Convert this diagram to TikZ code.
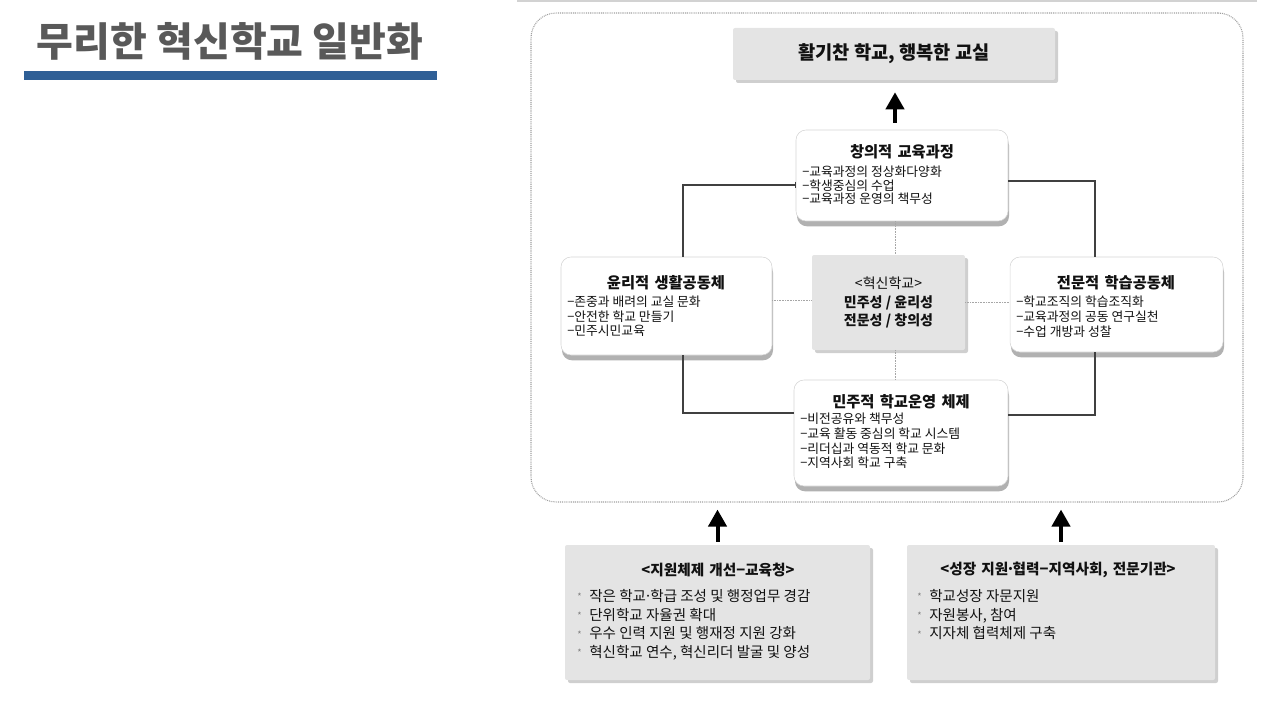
\documentclass[tikz,border=0pt]{standalone}
\usepackage{fontspec}
\setmainfont{Noto Sans CJK KR}
\newfontfamily\wsfont[WordSpace=2.2]{Noto Sans CJK KR}
\newfontfamily\wsfontb[WordSpace=1.5]{Noto Sans CJK KR}
\usetikzlibrary{shadows,arrows.meta,calc}
\definecolor{titlegray}{HTML}{595959}
\definecolor{barblue}{HTML}{2F5F96}
\definecolor{boxgray}{HTML}{E4E4E4}
\definecolor{gshadow}{HTML}{CFCFCF}
\definecolor{wshadow}{HTML}{A8A8A8}
\definecolor{wborder}{HTML}{D5D5D5}
\definecolor{linegray}{HTML}{404040}
\definecolor{txt}{HTML}{111111}
\newcommand{\mybul}{\makebox[9pt][l]{\raisebox{0.5pt}{\color{gray}\fontsize{7}{7}\selectfont *}}}
\newcommand{\mydot}{\makebox[0.3em]{·}}
\begin{document}
\begin{tikzpicture}[x=0.75pt,y=-0.75pt,
  gbox/.style={fill=boxgray, draw=none, rounded corners=1.5pt, drop shadow={shadow xshift=2.25pt, shadow yshift=-2.25pt, fill=gshadow, opacity=1}, inner sep=0pt},
  wbox/.style={fill=white, draw=wborder, line width=0.4pt, rounded corners=7.5pt, drop shadow={shadow xshift=0.75pt, shadow yshift=-4pt, fill=wshadow, opacity=0.9}, inner sep=0pt},
  ttl/.style={font=\wsfont\bfseries\fontsize{11.5}{13}\selectfont, text=txt, inner sep=0pt},
  lst/.style={align=left, anchor=north west, inner sep=0pt, text=txt},
  conn/.style={draw=linegray, line width=0.9pt},
  dotc/.style={draw=gray!70, line width=0.6pt, dash pattern=on 0.6pt off 0.6pt},
  bigarrow/.style={draw=black, line width=3pt, -{Triangle[length=12.75pt,width=13.5pt]}}
]
\useasboundingbox (0,0) rectangle (1280,720);

% title
\node[font=\bfseries\fontsize{30}{34}\selectfont, text=titlegray, inner sep=0pt] (maintitle) at (230,41) {무리한 혁신학교 일반화};
\fill[barblue] (24,71) rectangle (437,80);

% top thin line
\draw[draw=gray!35, line width=1.5pt] (517,1) -- (1257,1);

% dotted frame
\node[draw=gray!75, line width=0.8pt, dash pattern=on 0.7pt off 0.7pt, rounded corners=18.75pt, minimum width=534pt, minimum height=366.75pt, inner sep=0pt] (frame) at (887,257.5) {};

% goal box
\node[gbox, minimum width=241.5pt, minimum height=39pt, font=\bfseries\fontsize{14}{16}\selectfont, text=txt] (goal) at (894,54) {활기찬 학교, 행복한 교실};

% white boxes
\node[wbox, minimum width=159pt, minimum height=68.25pt] (cre) at (902,175.5) {};
\node[ttl] (creT) at (902,152) {창의적 교육과정};
\node[lst, font=\fontsize{9.6}{10.1}\selectfont] (creL) at (802,166) {−교육과정의 정상화다양화\\−학생중심의 수업\\−교육과정 운영의 책무성};

\node[wbox, minimum width=158.25pt, minimum height=73.5pt] (eth) at (666.5,306) {};
\node[ttl] (ethT) at (666,283) {윤리적 생활공동체};
\node[lst, font=\fontsize{9.6}{10.9}\selectfont] (ethL) at (567,296) {−존중과 배려의 교실 문화\\−안전한 학교 만들기\\−민주시민교육};

\node[wbox, minimum width=159.75pt, minimum height=71.25pt] (pro) at (1116.5,304.5) {};
\node[ttl] (proT) at (1116,283) {전문적 학습공동체};
\node[lst, font=\fontsize{9.6}{11.2}\selectfont] (proL) at (1016,296) {−학교조직의 학습조직화\\−교육과정의 공동 연구실천\\−수업 개방과 성찰};

\node[wbox, minimum width=160.5pt, minimum height=79.5pt] (dem) at (901,433) {};
\node[ttl] (demT) at (901,402) {민주적 학교운영 체제};
\node[lst, font=\fontsize{9.6}{11}\selectfont] (demL) at (800,413) {−비전공유와 책무성\\−교육 활동 중심의 학교 시스템\\−리더십과 역동적 학교 문화\\−지역사회 학교 구축};

% centre box
\node[gbox, minimum width=114.75pt, minimum height=71.25pt, align=center, font=\bfseries\fontsize{10.5}{13.9}\selectfont, text=txt] (ctr) at (888.5,302.5) {{\mdseries <혁신학교>}\\민주성 / 윤리성\\전문성 / 창의성};

% bottom boxes
\node[gbox, minimum width=228.75pt, minimum height=101.25pt] (bl) at (717.5,612.5) {};
\node[ttl, font=\wsfontb\bfseries\fontsize{11}{12}\selectfont] (blT) at (718,570) {<지원체제 개선−교육청>};
\node[lst, font=\fontsize{10.9}{14}\selectfont] (blL) at (577,589) {\mybul 작은 학교\mydot 학급 조성 및 행정업무 경감\\\mybul 단위학교 자율권 확대\\\mybul 우수 인력 지원 및 행재정 지원 강화\\\mybul 혁신학교 연수, 혁신리더 발굴 및 양성};

\node[gbox, minimum width=231pt, minimum height=101.25pt] (br) at (1061,612.5) {};
\node[ttl, font=\wsfontb\bfseries\fontsize{11}{12}\selectfont] (brT) at (1058,570) {<성장 지원\mydot 협력−지역사회, 전문기관>};
\node[lst, font=\fontsize{10.9}{14}\selectfont] (brL) at (917,589) {\mybul 학교성장 자문지원\\\mybul 자원봉사, 참여\\\mybul 지자체 협력체제 구축};

% solid connectors
\coordinate (jl) at (683,185);
\coordinate (jr) at (1095,181);
\coordinate (jbr) at (1095,415);
\coordinate (jbl) at (683,413);
\draw[conn, -{Bar[width=5pt]}] (eth.north -| jl) |- (cre.west |- jl);
\draw[conn] (cre.east |- jr) -| (pro.north -| jr);
\draw[conn] (pro.south -| jbr) |- (dem.east |- jbr);
\draw[conn] (dem.west |- jbl) -| (eth.south -| jbl);

% dotted connectors
\coordinate (dx) at (895,0);
\coordinate (dyl) at (0,300);
\coordinate (dyr) at (0,302);
\draw[dotc] (cre.south -| dx) -- (ctr.north -| dx);
\draw[dotc] (ctr.south -| dx) -- (dem.north -| dx);
\draw[dotc] (eth.east |- dyl) -- (ctr.west |- dyl);
\draw[dotc] (ctr.east |- dyr) -- (pro.west |- dyr);

% big arrows
\draw[bigarrow, shorten <=5.25pt, shorten >=9pt] (cre.north -| dx) -- (goal.south -| dx);
\draw[bigarrow, shorten <=2.25pt, shorten >=5.25pt] (bl.north) -- (bl.north |- frame.south);
\draw[bigarrow, shorten <=2.25pt, shorten >=5.25pt] (br.north) -- (br.north |- frame.south);
\end{tikzpicture}
\end{document}
